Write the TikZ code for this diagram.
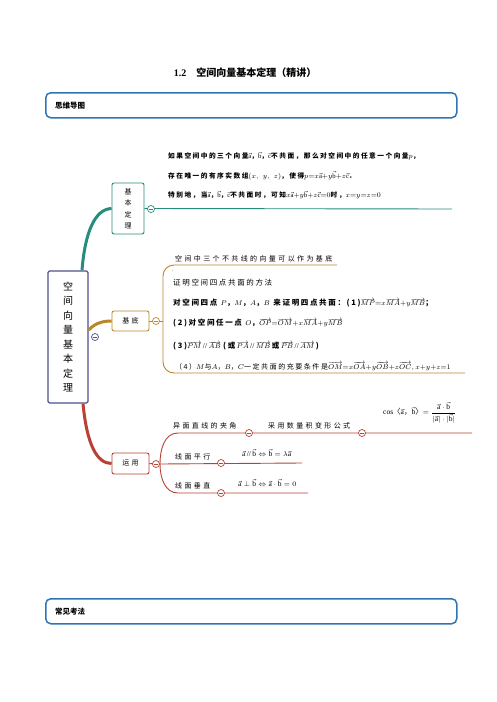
\documentclass[tikz,border=0pt]{standalone}
\usepackage{amsmath,amssymb}
\usepackage{fontspec}
\setmainfont{Liberation Serif}
\newfontfamily\cjkplain{Noto Sans CJK SC}
\newfontfamily\cjk[LetterSpace=22]{Noto Sans CJK SC}
\newfontfamily\cjksp[LetterSpace=34]{Noto Sans CJK SC}
\definecolor{hdblue}{RGB}{46,117,182}
\definecolor{rootblue}{RGB}{78,80,140}
\definecolor{tealbr}{RGB}{38,140,124}
\definecolor{goldbr}{RGB}{186,134,42}
\definecolor{redbr}{RGB}{184,64,52}
\newcommand{\va}{\vec{\mathrm{a}}}
\newcommand{\vb}{\vec{\mathrm{b}}}
\newcommand{\vc}{\vec{\mathrm{c}}}
\newcommand{\ov}[1]{\overrightarrow{#1}}
\newcommand{\parl}{\,\text{\rmfamily\mdseries//}\,}

\begin{document}
\begin{tikzpicture}[x=1pt,y=-1pt,
  header/.style={draw=hdblue,line width=1.5pt,rounded corners=5pt,
    minimum width=411pt,minimum height=25pt,inner sep=0pt,anchor=north west},
  headtext/.style={anchor=west,inner sep=0pt,font=\cjkplain\bfseries\fontsize{7.5}{9}\selectfont},
  rootbox/.style={draw=rootblue,line width=1.4pt,rounded corners=1.5pt,fill=white,
    minimum width=40pt,minimum height=132pt,align=center,
    font=\cjkplain\fontsize{10}{14.5}\selectfont},
  topic/.style={draw=#1,line width=0.9pt,rounded corners=2pt,fill=white,
    align=center,inner sep=0pt,font=\cjksp\fontsize{7}{11.5}\selectfont},
  fold/.style={circle,draw=#1,fill=white,line width=0.7pt,minimum size=7pt,
    inner sep=0pt,path picture={\draw[#1,line width=0.6pt]
      ([xshift=-2.2pt]path picture bounding box.center) --
      ([xshift=2.2pt]path picture bounding box.center);}},
  trunk/.style={draw=#1,line width=3pt},
  twig/.style={draw=#1,line width=0.9pt},
  leaf/.style={anchor=west,inner sep=0pt,font=\cjk\fontsize{7.5}{8}\selectfont},
  leafb/.style={leaf,font=\cjk\bfseries\fontsize{7.5}{8}\selectfont},
  thmline/.style={leaf,font=\cjk\bfseries\fontsize{6.7}{8}\selectfont},
  tag/.style={leaf,font=\cjksp\fontsize{7}{8}\selectfont}]

  \useasboundingbox (0,0) rectangle (496,702);

  \node[font=\bfseries\fontsize{10}{12}\selectfont] (title) at (245,73)
    {1.2\quad{\cjkplain 空间向量基本定理（精讲）}};
  \node[header] (hd1) at (45,92) {};
  \node[headtext] (hd1t) at ([xshift=10pt]hd1.west) {思维导图};
  \node[header] (hd2) at (45,598) {};
  \node[headtext] (hd2t) at ([xshift=10pt]hd2.west) {常见考法};

  \node[rootbox] (root) at (68,337) {空\\间\\向\\量\\基\\本\\定\\理};
  \node[topic=tealbr,minimum width=32pt,minimum height=51pt] (thm) at (128,208.5)
    {基\\本\\定\\理};
  \node[topic=goldbr,minimum width=37pt,minimum height=20pt] (base) at (130.5,321) {基底};
  \node[topic=redbr,minimum width=37pt,minimum height=21pt] (use) at (130.5,463.5) {运用};

  \coordinate (tend) at (452,209);
  \coordinate (g0) at (163,321);
  \coordinate (gtop) at (337,265);
  \coordinate (gbot) at (465,373);
  \coordinate (r0) at (160,464);
  \coordinate (rtop) at (472,433);
  \coordinate (rmid) at (302,463);
  \coordinate (rbot) at (308,493);

  \draw[trunk=tealbr] ([xshift=14pt]root.north) .. controls (85,232) and (95,209) .. (thm.west);
  \draw[trunk=goldbr] ([yshift=7pt]root.east) .. controls (95,323) and (103,321) .. (base.west);
  \draw[trunk=redbr] ([xshift=15pt]root.south) .. controls (87,445) and (97,463.5) .. (use.west);

  \draw[twig=tealbr] (thm.east) -- (tend);
  \draw[twig=goldbr] (base.east) -- (g0);
  \draw[twig=goldbr,rounded corners=11pt] (g0) |- (gtop);
  \draw[twig=goldbr,rounded corners=11pt] (g0) |- (gbot);
  \draw[twig=redbr] (use.east) -- (r0) -- (rmid);
  \draw[twig=redbr] (r0) to[out=90,in=180] (178,433) -- (rtop);
  \draw[twig=redbr] (r0) to[out=-90,in=180] (178,493) -- (rbot);

  \node[fold=rootblue] (f0) at (95,337) {};
  \node[fold=tealbr] (f1) at (151,209) {};
  \node[fold=goldbr] (f2) at (156,321) {};
  \node[fold=redbr] (f3) at (156,464) {};
  \node[fold=redbr] (f4) at (249,433) {};
  \node[fold=redbr] (f5) at (362,433) {};
  \node[fold=redbr] (f6) at (221,463) {};
  \node[fold=redbr] (f7) at (221,493) {};

  \node[thmline] (k1) at (168,156) {如果空间中的三个向量$\va$，$\vb$，$\vc$不共面，那么对空间中的任意一个向量$p$，};
  \node[thmline] (k2) at (168,176) {存在唯一的有序实数组$(x,\ y,\ z)$，使得$p{=}x\va{+}y\vb{+}z\vc$．};
  \node[thmline] (k3) at (168,195) {特别地，当$\va$，$\vb$，$\vc$不共面时，可知$x\va{+}y\vb{+}z\vc{=}0$时，$x{=}y{=}z{=}0$};

  \node[tag] (g1) at (175,259) {空间中三个不共线的向量可以作为基底};
  \node[leaf,font=\fontsize{5}{5}\selectfont] (gdot) at (172,271) {.};
  \node[leaf] (g2) at (173,283) {证明空间四点共面的方法};
  \node[leafb] (g3) at (173,303) {对空间四点 $P$，$M$，$A$，$B$ 来证明四点共面：(1)$\ov{MP}{=}x\ov{MA}{+}y\ov{MB}$；};
  \node[leafb] (g4) at (173,323) {(2)对空间任一点 $O$，$\ov{OP}{=}\ov{OM}{+}x\ov{MA}{+}y\ov{MB}$};
  \node[leafb] (g5) at (173,346) {(3)$\ov{PM}\parl\ov{AB}\;$(或$\,\ov{PA}\parl\ov{MB}\,$或$\,\ov{PB}\parl\ov{AM}\,$)};
  \node[leaf,font=\cjk\fontsize{7}{8}\selectfont] (g6) at (175,366) {（4）$M$与$A$，$B$，$C$一定共面的充要条件是$\ov{OM}{=}x\ov{OA}{+}y\ov{OB}{+}z\ov{OC},x{+}y{+}z{=}1$};

  \node[tag] (u1) at (173,426) {异面直线的夹角};
  \node[tag] (u2) at (268,426) {采用数量积变形公式};
  \node[leaf] (u3) at (383,413) {$\cos$〈$\va$，$\vb$〉$=\dfrac{\va\cdot\vb}{|\va|\cdot|\vb|}$};
  \node[tag] (u4) at (175,457) {线面平行};
  \node[leaf] (u5) at (242,453) {$\va\parl\vb\Leftrightarrow\vb=\lambda\va$};
  \node[tag] (u6) at (175,486) {线面垂直};
  \node[leaf] (u7) at (238,483) {$\va\perp\vb\Leftrightarrow\va\cdot\vb=0$};
\end{tikzpicture}
\end{document}
